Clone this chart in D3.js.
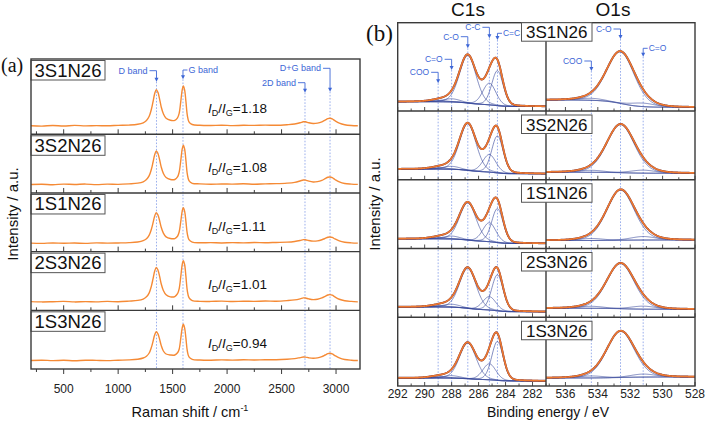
<!DOCTYPE html>
<html><head><meta charset="utf-8">
<script src="https://cdn.jsdelivr.net/npm/d3@7"></script>
<style>body{margin:0;background:#fff}svg{display:block}</style>
</head><body><svg id="c" width="706" height="422"></svg>
<script>
// ---------------- DATA ----------------
const ramanSamples = ["3S1N26","3S2N26","1S1N26","2S3N26","1S3N26"];
const ratioValues = ["1.18","1.08","1.11","1.01","0.94"];
const ramanTicks = [500,1000,1500,2000,2500,3000];
const ramanMinor = [250,750,1250,1750,2250,2750];
const ramanShift = [200,300,400,500,600,700,800,900,1000,1100,1180,1230,1260,1285,1305,1320,1335,1350,1365,1380,1395,1415,1440,1480,1520,1545,1560,1575,1588,1598,1610,1622,1635,1650,1680,1750,1850,1950,2050,2150,2250,2350,2450,2550,2620,2670,2700,2720,2750,2790,2830,2870,2900,2925,2945,2965,2990,3030,3080,3140,3200];
const raman_3S1N26 = [0.6,0.2,0.8,0.3,0.9,0.4,0.7,0.5,0.9,1.2,2.0,3.5,5.8,10,17,24.5,32.5,36.7,34,27.5,19.5,12.5,8,6,6,8.5,13,25,36.5,40.3,36.5,25,11,4.5,1.8,1.0,0.8,1.1,0.7,1.0,0.9,1.2,1.0,1.6,2.3,3.5,4.5,4.5,3.5,2.8,3.2,4.5,6.2,7.6,8,7.4,5.6,3.2,1.6,0.8,0.5];
const raman_3S2N26 = [0.4,0.7,0.3,0.8,0.5,0.9,0.4,0.8,0.6,1.1,1.8,3.2,5.4,9.3,15.7,22.7,30.1,34,31.5,25.5,18.1,11.6,7.4,5.5,5.5,8,12.8,24.6,36,39.7,36,24.6,10.8,4.4,1.7,1.1,0.7,1.0,0.9,1.2,0.8,1.1,1.3,1.8,2.6,4,5,4.9,3.8,3,3.4,4.6,6.3,7.7,8,7.3,5.5,3.1,1.5,0.9,0.6];
const raman_1S1N26 = [0.5,0.3,0.7,0.4,0.6,0.3,0.8,0.5,0.7,1.0,1.7,3.0,4.9,8.5,14.4,20.7,27.5,31,28.7,23.2,16.5,10.6,6.8,5.1,5.1,7.4,11.6,22.3,32.6,36,32.6,22.3,9.8,4,1.6,0.9,1.0,0.7,1.0,0.8,1.1,0.9,1.2,1.5,2.2,3.2,4,3.9,3.1,2.5,2.8,3.9,5.2,6.4,6.7,6.2,4.7,2.7,1.4,0.8,0.5];
const raman_2S3N26 = [0.7,0.4,0.6,0.9,0.4,0.7,0.5,0.9,0.6,1.2,1.9,3.3,5.5,9.5,16.2,23.4,31,35,32.4,26.2,18.6,11.9,7.6,5.5,5.8,8.6,13.5,25.9,37.8,41.7,37.8,25.9,11.4,4.7,1.8,1.0,0.9,1.2,0.8,1.1,1.0,1.3,1.1,1.7,2.4,3.5,4.4,4.3,3.4,2.7,3.1,4.4,6,7.3,7.7,7.1,5.4,3.1,1.6,0.9,0.5];
const raman_1S3N26 = [0.5,0.8,0.4,0.7,0.3,0.8,0.6,0.4,0.8,1.1,1.8,3.0,4.8,8,13.6,19.6,26,29.3,27.2,22,15.6,10,7,6,6,8.2,11.8,22.8,33.2,36.7,33.2,22.8,10,4.1,1.7,1.0,0.8,1.1,0.9,1.2,1.0,1.3,1.2,1.7,2.4,3.4,4,3.9,3.2,2.7,3.1,4.4,6,7.3,7.7,7.1,5.4,3.1,1.5,0.8,0.5];
const ramanSeries = [raman_3S1N26, raman_3S2N26, raman_1S1N26, raman_2S3N26, raman_1S3N26];
const bandNames = ["D band","G band","2D band","D+G band"];
const bandShifts = [1352,1595,2715,2945];

const xpsSamples = ["3S1N26","3S2N26","1S1N26","2S3N26","1S3N26"];
const c1sTicks = [292,290,288,286,284,282];
const o1sTicks = [536,534,532,530,528];
const c1sNames = ["COO","C=O","C-O","C-C","C=C"];
const c1sCenters = [289.0,288.0,286.8,285.2,284.6];
const c1sFwhm = [1.5,1.5,1.45,1.15,1.0];
const c1s_3S1N26 = [1.5,3.2,47.5,21.7,35];
const c1s_3S2N26 = [1.5,3.0,46.5,17.6,37];
const c1s_1S1N26 = [1.5,3.0,37,19,34];
const c1s_2S3N26 = [1.5,3.0,40,13.4,36];
const c1s_1S3N26 = [1.5,2.5,35.5,16,39];
const c1sHeights = [c1s_3S1N26,c1s_3S2N26,c1s_1S1N26,c1s_2S3N26,c1s_1S3N26];
const c1sBgHigh = [9.3,10.7,9.7,10.3,8];   // background at high binding energy
const c1sBgLow = [4.5,6,5,5.5,5];         // background at low binding energy
const o1sNames = ["COO","C-O","C=O"];
const o1sCenters = [534.4,532.6,531.2];
const o1sFwhm = [1.8,2.0,1.8];
const o1s_3S1N26 = [2,51.5,3.5];
const o1s_3S2N26 = [2,48,3];
const o1s_1S1N26 = [2,50,3.5];
const o1s_2S3N26 = [2,45,3];
const o1s_1S3N26 = [2,46,3];
const o1sHeights = [o1s_3S1N26,o1s_3S2N26,o1s_1S1N26,o1s_2S3N26,o1s_1S3N26];
const o1sBgHigh = [11,7.5,8,9,8];
const o1sBgLow = [3.7,6.5,8.5,8,9];

// ---------------- STYLE / LAYOUT ----------------
const svg = d3.select("#c");
const SANS = "'Liberation Sans', Arial, sans-serif";
const SERIF = "'Liberation Serif','Times New Roman',serif";
const FRAME = "#3a3a3a", ORANGE_R = "#f58a35", ORANGE_X = "#ef7a30",
      DARK = "#6a2a3a", COMP = "#34459a", ANN = "#3d66d6", DOT = "#8ea6ea";

const defs = svg.append("defs");
function clip(id, x, y, w, h){ defs.append("clipPath").attr("id", id).append("rect").attr("x",x).attr("y",y).attr("width",w).attr("height",h); return `url(#${id})`; }

function arrowAnn(g, text, lineX, ty, tip, side, fs){
  const p = d3.path();
  if (side === "L"){
    p.moveTo(lineX-7, ty); p.lineTo(lineX, ty); p.lineTo(lineX, tip-3);
    g.append("text").attr("x", lineX-9).attr("y", ty).attr("dy","0.35em").attr("text-anchor","end")
      .attr("font-family",SANS).attr("font-size",fs).attr("fill",ANN).text(text);
  } else {
    p.moveTo(lineX, tip-3); p.lineTo(lineX, ty); p.lineTo(lineX+4.5, ty);
    g.append("text").attr("x", lineX+5.5).attr("y", ty).attr("dy","0.35em").attr("text-anchor","start")
      .attr("font-family",SANS).attr("font-size",fs).attr("fill",ANN).text(text);
  }
  g.append("path").attr("d", p.toString()).attr("fill","none").attr("stroke",ANN).attr("stroke-width",0.9);
  g.append("path").attr("d", `M${lineX-2},${tip-4}L${lineX+2},${tip-4}L${lineX},${tip}Z`).attr("fill",ANN);
}

// ================= PANEL (a) =================
const A = {l:31, r:360, t:59, b:369, b1:134.3};
const aH = (A.b - A.b1)/4;
const aTops = [A.t], aBots = [A.b1];
for (let i=1;i<5;i++){ aTops.push(A.b1+(i-1)*aH); aBots.push(A.b1+i*aH); }
const xA = d3.scaleLinear().domain([200,3220]).range([A.l, A.r]);

const gA = svg.append("g");
const bandLayout = [{side:"L",ty:70.7,tip:81.7},{side:"R",ty:70,tip:79.3},{side:"L",ty:82.7,tip:92.7},{side:"L",ty:68.3,tip:91.7}];
bandNames.forEach((n,i)=>{
  const x = xA(bandShifts[i]);
  gA.append("line").attr("x1",x).attr("x2",x).attr("y1",bandLayout[i].tip).attr("y2",A.b)
    .attr("stroke",DOT).attr("stroke-width",0.9).attr("stroke-dasharray","1.6,1.6");
});
ramanSamples.forEach((s,i)=>{
  const top = aTops[i], bot = aBots[i];
  const y = d3.scaleLinear().domain([-8, bot-top-8]).range([bot, top]);
  const line = d3.line().x((d,j)=>xA(ramanShift[j])).y(d=>y(d)).curve(d3.curveCatmullRom.alpha(0.5));
  gA.append("path").attr("d", line(ramanSeries[i])).attr("fill","none").attr("stroke",ORANGE_R)
    .attr("stroke-width",1.4).attr("clip-path", clip("ca"+i, A.l, top, A.r-A.l, bot-top));
  const dir = (i===4) ? 1 : -1;
  ramanTicks.forEach(v=>gA.append("line").attr("x1",xA(v)).attr("x2",xA(v)).attr("y1",bot).attr("y2",bot+dir*5).attr("stroke",FRAME).attr("stroke-width",1));
  ramanMinor.forEach(v=>gA.append("line").attr("x1",xA(v)).attr("x2",xA(v)).attr("y1",bot).attr("y2",bot+dir*3).attr("stroke",FRAME).attr("stroke-width",1));
  gA.append("rect").attr("x",A.l).attr("y",top+1.5).attr("width",74).attr("height",19.5).attr("fill","#fff").attr("stroke","#555").attr("stroke-width",1);
  gA.append("text").attr("x",A.l+37).attr("y",top+17.5).attr("text-anchor","middle").attr("font-family",SANS).attr("font-size",18.5).attr("fill","#111").text(s);
  const t = gA.append("text").attr("x",208).attr("y",bot-21).attr("font-family",SANS).attr("font-size",13.5).attr("fill","#111");
  t.append("tspan").attr("font-style","italic").text("I");
  t.append("tspan").attr("font-size",9).attr("dy",3).text("D");
  t.append("tspan").attr("dy",-3).text("/");
  t.append("tspan").attr("font-style","italic").text("I");
  t.append("tspan").attr("font-size",9).attr("dy",3).text("G");
  t.append("tspan").attr("dy",-3).text("=" + ratioValues[i]);
});
bandNames.forEach((n,i)=> arrowAnn(gA, n, xA(bandShifts[i]), bandLayout[i].ty, bandLayout[i].tip, bandLayout[i].side, 9));
gA.append("rect").attr("x",A.l).attr("y",A.t).attr("width",A.r-A.l).attr("height",A.b-A.t).attr("fill","none").attr("stroke",FRAME).attr("stroke-width",1.4);
aBots.slice(0,4).forEach(b=>gA.append("line").attr("x1",A.l).attr("x2",A.r).attr("y1",b).attr("y2",b).attr("stroke",FRAME).attr("stroke-width",1.4));
ramanTicks.forEach(v=>gA.append("text").attr("x",xA(v)).attr("y",393).attr("text-anchor","middle").attr("font-family",SANS).attr("font-size",12).attr("fill","#222").text(v));
const xt = gA.append("text").attr("x",190).attr("y",417).attr("text-anchor","middle").attr("font-family",SANS).attr("font-size",14.5).attr("fill","#111");
xt.append("tspan").text("Raman shift / cm");
xt.append("tspan").attr("font-size",9).attr("dy",-6).text("-1");
gA.append("text").attr("transform","translate(18,214) rotate(-90)").attr("text-anchor","middle").attr("font-family",SANS).attr("font-size",15).attr("fill","#111").text("Intensity / a.u.");
gA.append("text").attr("x",1).attr("y",72).attr("font-family",SERIF).attr("font-size",20).attr("fill","#111").text("(a)");

// ================= PANEL (b) =================
const B = {l:397.7, m:546, r:695, t:22.7, b:386, b1:111};
const bH = (B.b - B.b1)/4;
const bTops = [B.t], bBots = [B.b1];
for (let i=1;i<5;i++){ bTops.push(B.b1+(i-1)*bH); bBots.push(B.b1+i*bH); }
const xC = d3.scaleLinear().domain([292,281]).range([B.l, B.m]);
const xO = d3.scaleLinear().domain([537.2,528]).range([B.m, B.r]);
const gB = svg.append("g");

const c1sLayout = [{side:"L",ty:72.3,tip:83.3},{side:"L",ty:59.3,tip:70},{side:"L",ty:36.7,tip:48.3},{side:"L",ty:27.3,tip:38.3},{side:"R",ty:33.3,tip:40}];
const o1sLayout = [{side:"L",ty:61,tip:71},{side:"L",ty:29,tip:39},{side:"R",ty:48.3,tip:56.7}];
c1sCenters.forEach((c,i)=>gB.append("line").attr("x1",xC(c)).attr("x2",xC(c)).attr("y1",c1sLayout[i].tip).attr("y2",B.b).attr("stroke",DOT).attr("stroke-width",0.9).attr("stroke-dasharray","1.6,1.6"));
o1sCenters.forEach((c,i)=>gB.append("line").attr("x1",xO(c)).attr("x2",xO(c)).attr("y1",o1sLayout[i].tip).attr("y2",B.b).attr("stroke",DOT).attr("stroke-width",0.9).attr("stroke-dasharray","1.6,1.6"));

function pv(x, c, w, h){ const d=(x-c)/w; return h*(0.85*Math.exp(-4*Math.LN2*d*d) + 0.15/(1+4*d*d)); }

function drawRegion(g, xs, lo, hi, centers, fwhm, heights, bgHigh, bgLow, top, bot, cid, x0, x1){
  const y = d3.scaleLinear().domain([0, bot-top]).range([bot, top]);
  const E = d3.range(lo, hi+0.0001, 0.04);
  const comps = centers.map((c,k)=>E.map(e=>pv(e,c,fwhm[k],heights[k])));
  const tot = E.map((e,j)=>d3.sum(comps,cp=>cp[j]));
  const cum = []; let acc=0; tot.forEach(v=>{acc+=v; cum.push(acc);});
  const bg = E.map((e,j)=> bgLow + (bgHigh-bgLow)*cum[j]/acc);
  const cp = clip(cid, x0, top, x1-x0, bot-top);
  const gg = g.append("g").attr("clip-path", cp);
  const ln = arr => d3.line().x((d,j)=>xs(E[j])).y(d=>y(d))(arr);
  gg.append("path").attr("d", ln(bg)).attr("fill","none").attr("stroke",COMP).attr("stroke-width",0.8).attr("opacity",0.85);
  comps.forEach(cmp=> gg.append("path").attr("d", ln(cmp.map((v,j)=>v+bg[j]))).attr("fill","none").attr("stroke",COMP).attr("stroke-width",0.75).attr("opacity",0.8));
  const env = tot.map((v,j)=>v+bg[j]);
  gg.append("path").attr("d", ln(env)).attr("fill","none").attr("stroke",DARK).attr("stroke-width",1.9);
  gg.append("path").attr("d", ln(env)).attr("fill","none").attr("stroke",ORANGE_X).attr("stroke-width",1.6);
}

xpsSamples.forEach((s,i)=>{
  const top = bTops[i], bot = bBots[i];
  drawRegion(gB, xC, 281, 292, c1sCenters, c1sFwhm, c1sHeights[i], c1sBgHigh[i], c1sBgLow[i], top, bot, "cc"+i, B.l, B.m);
  drawRegion(gB, xO, 528, 537.2, o1sCenters, o1sFwhm, o1sHeights[i], o1sBgHigh[i], o1sBgLow[i], top, bot, "co"+i, B.m, B.r);
  d3.range(281,293).forEach(v=>gB.append("line").attr("x1",xC(v)).attr("x2",xC(v)).attr("y1",bot).attr("y2",bot-(v%2===0?4:2.5)).attr("stroke",FRAME).attr("stroke-width",0.9));
  d3.range(528,538).forEach(v=>gB.append("line").attr("x1",xO(v)).attr("x2",xO(v)).attr("y1",bot).attr("y2",bot-(v%2===0?4:2.5)).attr("stroke",FRAME).attr("stroke-width",0.9));
});
c1sNames.forEach((n,i)=>arrowAnn(gB, n, xC(c1sCenters[i]), c1sLayout[i].ty, c1sLayout[i].tip, c1sLayout[i].side, 8.5));
o1sNames.forEach((n,i)=>arrowAnn(gB, n, xO(o1sCenters[i]), o1sLayout[i].ty, o1sLayout[i].tip, o1sLayout[i].side, 8.5));

gB.append("rect").attr("x",B.l).attr("y",B.t).attr("width",B.r-B.l).attr("height",B.b-B.t).attr("fill","none").attr("stroke",FRAME).attr("stroke-width",1.4);
gB.append("line").attr("x1",B.m).attr("x2",B.m).attr("y1",B.t).attr("y2",B.b).attr("stroke",FRAME).attr("stroke-width",1.4);
bBots.slice(0,4).forEach(b=>gB.append("line").attr("x1",B.l).attr("x2",B.r).attr("y1",b).attr("y2",b).attr("stroke",FRAME).attr("stroke-width",1.4));
xpsSamples.forEach((s,i)=>{
  const yb = i===0 ? bTops[i] : bTops[i]+4;
  gB.append("rect").attr("x",521.5).attr("y",yb).attr("width",70.5).attr("height",18.5).attr("fill","#fff").attr("stroke","#555").attr("stroke-width",1);
  gB.append("text").attr("x",556.7).attr("y",yb+15.5).attr("text-anchor","middle").attr("font-family",SANS).attr("font-size",17).attr("fill","#111").text(s);
});
c1sTicks.forEach(v=>gB.append("text").attr("x",xC(v)).attr("y",398).attr("text-anchor","middle").attr("font-family",SANS).attr("font-size",12).attr("fill","#222").text(v));
o1sTicks.forEach(v=>gB.append("text").attr("x",xO(v)).attr("y",398).attr("text-anchor","middle").attr("font-family",SANS).attr("font-size",12).attr("fill","#222").text(v));
gB.append("text").attr("x",548).attr("y",417).attr("text-anchor","middle").attr("font-family",SANS).attr("font-size",14).attr("fill","#111").text("Binding energy / eV");
gB.append("text").attr("transform","translate(380,204) rotate(-90)").attr("text-anchor","middle").attr("font-family",SANS).attr("font-size",15).attr("fill","#111").text("Intensity / a.u.");
gB.append("text").attr("x",468).attr("y",16).attr("text-anchor","middle").attr("font-family",SANS).attr("font-size",19).attr("fill","#111").text("C1s");
gB.append("text").attr("x",613).attr("y",16).attr("text-anchor","middle").attr("font-family",SANS).attr("font-size",19).attr("fill","#111").text("O1s");
gB.append("text").attr("x",366).attr("y",41).attr("font-family",SERIF).attr("font-size",23).attr("fill","#111").text("(b)");
</script></body></html>
